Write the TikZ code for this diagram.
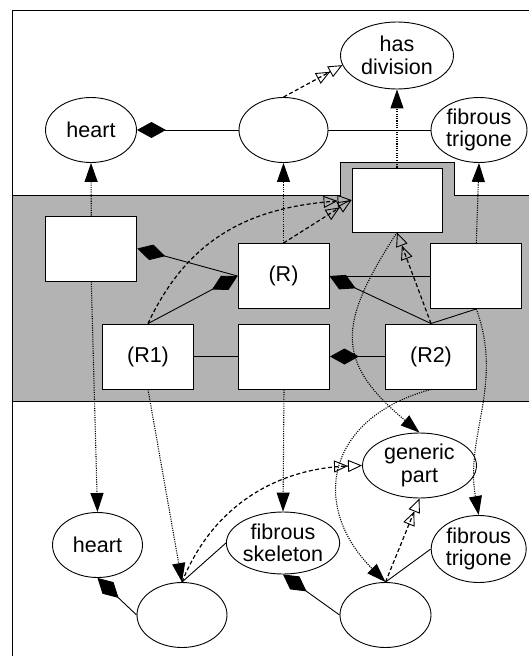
\documentclass[tikz,border=0pt]{standalone}
\usepackage{fontspec}
\setmainfont{Liberation Sans}
\usetikzlibrary{shapes.geometric,arrows.meta}
\definecolor{bandgray}{HTML}{B3B3B3}
\begin{document}
\begin{tikzpicture}[x=1pt,y=-1pt,
  every node/.style={font=\fontsize{21.5}{22.5}\selectfont, align=center, inner sep=0pt},
  ell/.style={ellipse, draw, fill=white, line width=0.9pt},
  box/.style={rectangle, draw, fill=white, line width=0.9pt, minimum width=91pt, minimum height=65pt},
  ln/.style={line width=0.9pt},
  dia/.style={ln, {Diamond[length=29pt,width=16pt]}-},
  dotarr/.style={line width=1.1pt, dash pattern=on 1.1pt off 1.2pt, -{Triangle[length=19pt,width=13pt]}},
  gen/.style={line width=1.2pt, dash pattern=on 4pt off 2.5pt, -{Triangle[open,length=14pt,width=12pt,line width=0.9pt] Triangle[open,length=14pt,width=12pt,line width=0.9pt]}},
]
\useasboundingbox (0,0) rectangle (529,656);
% band
\fill[bandgray] (12,195) -- (340,195) -- (340,162) -- (454,162) -- (454,195) -- (529,195) -- (529,401) -- (12,401) -- cycle;
\draw[ln] (12,195) -- (340,195) -- (340,162) -- (454,162) -- (454,195) -- (529,195);
\draw[ln] (12,401) -- (529,401);
% frame
\draw[ln] (12,656) -- (12,10) -- (529,10);

% top ellipses
\node[ell, minimum width=91pt, minimum height=65pt] (hT) at (91,130) {heart};
\node[ell, minimum width=89pt, minimum height=65pt] (mT) at (283.5,130) {};
\node[ell, minimum width=113pt, minimum height=67pt] (hd) at (397,55.5) {has\\division};
\node[ell, minimum width=96pt, minimum height=65pt] (ftT) at (479,130) {fibrous\\trigone};

% boxes
\node[box] (bL) at (91.3,248.5) {};
\node[box] (bR) at (283.5,276) {(R)};
\node[box] (bRt) at (476.3,276) {};
\node[box, minimum width=90pt, minimum height=64pt] (bTop) at (397,200) {};
\node[box] (bR1) at (148,356.5) {(R1)};
\node[box] (bM) at (284,356.5) {};
\node[box] (bR2) at (431,356.5) {(R2)};

% lower ellipses
\node[ell, minimum width=90pt, minimum height=65pt] (hB) at (97.5,545) {heart};
\node[ell, minimum width=113pt, minimum height=62pt] (fs) at (283,543) {fibrous\\skeleton};
\node[ell, minimum width=114pt, minimum height=65pt] (gp) at (419.5,465.5) {generic\\part};
\node[ell, minimum width=95pt, minimum height=67pt] (ftB) at (478.7,549) {fibrous\\trigone};
\node[ell, minimum width=90pt, minimum height=65pt] (eL) at (182,615) {};
\node[ell, minimum width=91pt, minimum height=65pt] (eR) at (385.5,615) {};

% top connections
\draw[dia] (hT.east) -- (mT.west);
\draw[ln] (mT.east) -- (ftT.west);
\draw[gen] (mT.north) -- (hd.190);

% band connections
\draw[dia] (bL.east) -- (bR.west);
\draw[dia] (bR.west) -- (bR1.north);
\draw[dia] (bR.east) -- (bR2.north);
\draw[ln] (bRt.west) -- (bR.east);
\draw[ln] (bR2.north) -- (bRt.south);
\draw[ln] (bR1.east) -- (bM.west);
\draw[dia] (bM.east) -- (bR2.west);

\draw[gen] (bR1.north) to[out=65,in=184,looseness=1.05] (bTop.west);
\draw[gen] (bR.north) -- (bTop.west);
\draw[gen] (bR2.north) -- (bTop.south);

% dotted up
\draw[dotarr] (bL.north) -- (hT.south);
\draw[dotarr] (bR.north) -- (mT.south);
\draw[dotarr] (bRt.north) -- (ftT.south);
\draw[dotarr] (bTop.north) -- (hd.south);

% dotted down
\draw[dotarr] (bL.south) -- (hB.north);
\draw[dotarr] (bM.south) -- (fs.north);
\draw[dotarr] (bR1.south) to[out=-80,in=100] (eL.north);
\draw[dotarr] (bTop.south) to[out=237,in=140,looseness=1.4] (gp.north);
\draw[dotarr] (bR2.south) to[out=195,in=135,looseness=1.4] (eR.north);
\draw[dotarr] (bRt.south) to[out=-70,in=100] (ftB.north);

% lower connections
\draw[dia] (hB.south) -- (eL.west);
\draw[dia] (fs.south) -- (eR.west);
\draw[ln] (fs.west) -- (eL.north);
\draw[ln] (ftB.west) -- (eR.north);
\draw[gen] (eL.north) to[out=68,in=182] (gp.west);
\draw[gen] (eR.north) -- (gp.south);
\end{tikzpicture}
\end{document}
